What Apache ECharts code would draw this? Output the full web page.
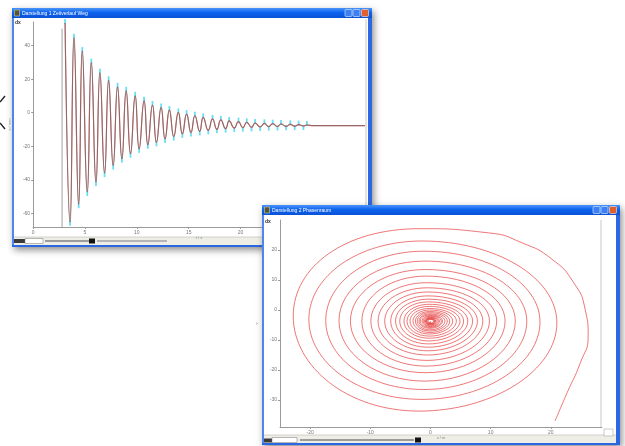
<!DOCTYPE html>
<html><head><meta charset="utf-8">
<script src="https://cdn.jsdelivr.net/npm/echarts@6/dist/echarts.min.js"></script>
<style>html,body{margin:0;padding:0;background:#fff}#c{width:625px;height:446px}</style>
</head><body><div id="c"></div>
<script>
// ---------- Window 1: time history (displacement vs time) ----------
const timeTicks = [0, 5, 10, 15, 20, 25, 30];
const dispTicks = [-60, -40, -20, 0, 20, 40];
const startT = [2.79, 2.79];
const startV = [-68, 50];
const peakT = [3.08,3.94,4.74,5.61,6.44,7.28,8.14,8.97,9.84,10.70,11.51,12.34,13.14,14.0,14.8,15.6,16.4,17.3,18.1,18.9,19.8,20.6,21.4,22.3,23.1,23.9,24.8,25.6,26.4];
const peakV = [53.4,44.6,36.7,29.8,23.8,19.3,15.4,13.0,10.1,7.1,4.6,3.1,1.6,0.2,-0.8,-1.8,-2.8,-3.7,-4.3,-4.9,-5.3,-5.7,-6.1,-6.3,-6.5,-6.7,-6.9,-7.1,-7.3];
const troughT = [3.56,4.39,5.22,6.06,6.89,7.72,8.56,9.39,10.22,11.06,11.89,12.72,13.56,14.39,15.22,16.06,16.89,17.72,18.56,19.39,20.22,21.06,21.89,22.72,23.56,24.39,25.22,26.06];
const troughV = [-64.9,-54.4,-47.2,-41.2,-35.9,-31.4,-27.4,-24.4,-21.5,-19.1,-17.6,-15.6,-14.2,-12.6,-11.8,-11.1,-10.5,-9.9,-9.5,-9.1,-8.9,-8.7,-8.5,-8.3,-8.2,-8.1,-8.0,-7.9];
const restT = [27.0, 32];
const restV = [-7.7, -7.7];

// ---------- Window 2: phase portrait ----------
const phaseXTicks = [-20, -10, 0, 10, 20];
const phaseYTicks = [-30, -20, -10, 0, 10, 20];
const tailX = [20.7, 22.7, 24.9, 26.2, 25.7, 23.8, 20.2, 15.2, 9.7];
const tailY = [-37.0, -27.6, -17.6, -8.7, 0.2, 9.1, 16.9, 22.4, 25.7];
const rightX = [null,21.0,18.2,16.0,14.1,12.4,11.0,9.8,8.7,7.8,7.0,6.2,5.5,4.9,4.3,3.7,3.2,2.8,2.4,2.0,1.8,1.5,1.3,1.1,0.9,0.8,0.7,0.55];
const rightY = [null,-4.3,-4.0,-3.8,-3.7,-3.7,-3.7,-3.7,-3.7,-3.7,-3.7,-3.7,-3.7,-3.7,-3.7,-3.7,-3.7,-3.7,-3.7,-3.7,-3.7,-3.7,-3.7,-3.7,-3.7,-3.7,-3.7,-3.7];
const topX = [-1.9,-1.4,-1.1,-0.9,-0.8,-0.7,-0.6,-0.5,-0.4,-0.4,-0.3,-0.3,-0.2,-0.2,-0.2,-0.1,-0.1,-0.1,-0.1,-0.1,0,0,0,0,0,0,0,0];
const topY = [27.1,23.0,19.6,16.3,13.5,11.3,9.1,7.4,6.0,4.7,3.6,2.7,1.9,1.2,0.5,0.0,-0.5,-0.9,-1.3,-1.6,-1.9,-2.1,-2.4,-2.6,-2.7,-2.9,-3.0,-3.15];
const leftX = [-22.8,-20.2,-17.4,-15.2,-13.3,-11.4,-9.9,-8.7,-7.6,-6.6,-5.8,-5.1,-4.4,-3.9,-3.4,-2.9,-2.5,-2.2,-1.9,-1.7,-1.4,-1.2,-1.0,-0.9,-0.8,-0.7,-0.6,-0.45];
const leftY = [-2.0,-3.1,-3.5,-3.6,-3.7,-3.7,-3.7,-3.7,-3.7,-3.7,-3.7,-3.7,-3.7,-3.7,-3.7,-3.7,-3.7,-3.7,-3.7,-3.7,-3.7,-3.7,-3.7,-3.7,-3.7,-3.7,-3.7,-3.7];
const bottomX = [-1.9,-1.4,-1.1,-0.9,-0.8,-0.7,-0.6,-0.5,-0.4,-0.4,-0.3,-0.3,-0.2,-0.2,-0.2,-0.1,-0.1,-0.1,-0.1,-0.1,0,0,0,0,0,0,0,0];
const bottomY = [-33.7,-29.8,-26.5,-23.7,-20.9,-18.7,-16.8,-15.0,-13.6,-12.4,-11.3,-10.3,-9.4,-8.7,-8.0,-7.5,-7.0,-6.6,-6.1,-5.8,-5.5,-5.3,-5.0,-4.8,-4.7,-4.5,-4.4,-4.25];
const centerX = [0];
const centerY = [-3.7];

const title1 = 'Darstellung 1 Zeitverlauf Weg';
const title2 = 'Darstellung 2 Phasenraum';

// ---------- build series data ----------
const wavePts = peakT.map((t, i) => [t, peakV[i]])
  .concat(troughT.map((t, i) => [t, troughV[i]]))
  .sort((a, b) => a[0] - b[0])
  .concat(restT.map((t, i) => [t, restV[i]]));
const startPts = startT.map((t, i) => [t, startV[i]]);
const peakPts = peakT.map((t, i) => [t, peakV[i]]);
const troughPts = troughT.map((t, i) => [t, troughV[i]]);

const spiralPts = tailX.map((x, i) => [x, tailY[i]]);
for (let i = 0; i < topX.length; i++) {
  if (rightX[i] !== null) spiralPts.push([rightX[i], rightY[i]]);
  spiralPts.push([topX[i], topY[i]]);
  spiralPts.push([leftX[i], leftY[i]]);
  spiralPts.push([bottomX[i], bottomY[i]]);
}
spiralPts.push([centerX[0], centerY[0]]);

// ---------- window chrome ----------
const FONT = 'Liberation Sans';
const titleGrad = {type: 'linear', x: 0, y: 0, x2: 0, y2: 1, colorStops: [
  {offset: 0, color: '#4a94fa'}, {offset: 0.45, color: '#0c63ee'}, {offset: 1, color: '#0a52d6'}]};

function windowFrame(x, y, w, h, title, z) {
  const e = [];
  e.push({type: 'rect', z, shape: {x, y, width: w, height: h},
    style: {fill: '#fff', shadowBlur: 7, shadowColor: 'rgba(0,0,0,0.45)', shadowOffsetX: 2, shadowOffsetY: 3}});
  e.push({type: 'rect', z, shape: {x, y, width: 2, height: h}, style: {fill: '#4f86ee'}});
  e.push({type: 'rect', z, shape: {x: x + w - 4, y, width: 4, height: h}, style: {fill: '#2b67e0'}});
  e.push({type: 'rect', z, shape: {x, y: y + h - 2, width: w, height: 2}, style: {fill: '#2b67e0'}});
  e.push({type: 'rect', z, shape: {x, y, width: w, height: 10}, style: {fill: titleGrad}});
  e.push({type: 'rect', z, shape: {x: x + 2.5, y: y + 2, width: 5, height: 6}, style: {fill: '#55553a', stroke: '#d8cf90', lineWidth: 0.6}});
  e.push({type: 'text', z, style: {text: title, x: x + 10, y: y + 5.3, fill: '#fff', fontSize: 5, fontFamily: FONT, verticalAlign: 'middle'}});
  const bx = x + w - 27;
  e.push({type: 'rect', z, shape: {x: bx, y: y + 1.5, width: 7, height: 7, r: 1}, style: {fill: '#3c80f2', stroke: '#e8f0ff', lineWidth: 0.6}});
  e.push({type: 'rect', z, shape: {x: bx + 8, y: y + 1.5, width: 7, height: 7, r: 1}, style: {fill: '#3c80f2', stroke: '#e8f0ff', lineWidth: 0.6}});
  e.push({type: 'rect', z, shape: {x: bx + 16.5, y: y + 1.5, width: 7, height: 7, r: 1}, style: {fill: '#e2602c', stroke: '#ffe8d8', lineWidth: 0.6}});
  e.push({type: 'rect', z, shape: {x: x + 2, y: y + h - 10, width: w - 6, height: 8}, style: {fill: '#efeee6'}});
  e.push({type: 'line', z, shape: {x1: x + 2, y1: y + h - 10, x2: x + w - 4, y2: y + h - 10}, style: {stroke: '#c8c8c0', lineWidth: 0.8}});
  return e;
}

const graphics = [];
graphics.push({type: 'polyline', z: 1, shape: {points: [[0, 102], [5, 96]]}, style: {stroke: '#222', lineWidth: 1.4, fill: null}});
graphics.push({type: 'polyline', z: 1, shape: {points: [[0, 123], [5, 129]]}, style: {stroke: '#222', lineWidth: 1.4, fill: null}});

graphics.push(...windowFrame(12, 8, 360, 239, title1, 1));
graphics.push({type: 'line', z: 1, shape: {x1: 366, y1: 19, x2: 366, y2: 236}, style: {stroke: '#c8c8c8', lineWidth: 1}});
graphics.push({type: 'text', z: 1, style: {text: 'dx', x: 15, y: 23, fill: '#333', fontSize: 5, fontWeight: 'bold', fontFamily: FONT, verticalAlign: 'middle'}});
graphics.push({type: 'rect', z: 1, shape: {x: 14, y: 239, width: 11, height: 4}, style: {fill: '#3a3a3a'}});
graphics.push({type: 'rect', z: 1, shape: {x: 25, y: 238.5, width: 18, height: 5}, style: {fill: '#fff', stroke: '#777', lineWidth: 0.5}});
graphics.push({type: 'rect', z: 1, shape: {x: 45, y: 240, width: 44, height: 2}, style: {fill: '#9c9c9c'}});
graphics.push({type: 'rect', z: 1, shape: {x: 89, y: 238.5, width: 6, height: 5}, style: {fill: '#111'}});
graphics.push({type: 'rect', z: 1, shape: {x: 97, y: 240, width: 70, height: 2}, style: {fill: '#b5b5b5'}});

graphics.push(...windowFrame(262, 205, 358, 240, title2, 10));
graphics.push({type: 'line', z: 10, shape: {x1: 601, y1: 220, x2: 601, y2: 427}, style: {stroke: '#c8c8c8', lineWidth: 1}});
graphics.push({type: 'text', z: 10, style: {text: 'dx', x: 265, y: 222, fill: '#333', fontSize: 5, fontWeight: 'bold', fontFamily: FONT, verticalAlign: 'middle'}});
graphics.push({type: 'rect', z: 10, shape: {x: 264, y: 438.5, width: 8, height: 4}, style: {fill: '#3a3a3a'}});
graphics.push({type: 'rect', z: 10, shape: {x: 272, y: 437.5, width: 25, height: 5}, style: {fill: '#fff', stroke: '#777', lineWidth: 0.5}});
graphics.push({type: 'rect', z: 10, shape: {x: 300, y: 439, width: 114, height: 2}, style: {fill: '#9c9c9c'}});
graphics.push({type: 'rect', z: 10, shape: {x: 415, y: 437.5, width: 6, height: 5}, style: {fill: '#111'}});
graphics.push({type: 'rect', z: 10, shape: {x: 604, y: 429, width: 9, height: 7}, style: {fill: '#fff', stroke: '#aaa', lineWidth: 0.6}});

const axisLine = {onZero: false, lineStyle: {color: '#9a9a9a', width: 1}};
const lbl = {fontSize: 5, color: '#777', fontFamily: FONT};

const option = {
  animation: false,
  backgroundColor: '#fff',
  graphic: {elements: graphics},
  grid: [
    {left: 31, top: 22, width: 334, height: 205},
    {left: 280, top: 220, width: 322, height: 207}
  ],
  xAxis: [
    {gridIndex: 0, type: 'value', min: 0, max: 32, interval: 5, z: 3,
      axisLine, axisTick: {length: 2, lineStyle: {color: '#9a9a9a'}, customValues: timeTicks},
      axisLabel: Object.assign({margin: 3, customValues: timeTicks}, lbl), splitLine: {show: false},
      name: 't / s', nameLocation: 'middle', nameGap: 7, nameTextStyle: {fontSize: 4, color: '#888', fontFamily: FONT}},
    {gridIndex: 1, type: 'value', min: -25, max: 28.5, z: 12,
      axisLine, axisTick: {length: 2, lineStyle: {color: '#9a9a9a'}, customValues: phaseXTicks},
      axisLabel: Object.assign({margin: 3, customValues: phaseXTicks}, lbl), splitLine: {show: false},
      name: 'x / m', nameLocation: 'middle', nameGap: 6, nameTextStyle: {fontSize: 4, color: '#888', fontFamily: FONT}}
  ],
  yAxis: [
    {gridIndex: 0, type: 'value', min: -68, max: 54, z: 3,
      axisLine, axisTick: {show: true, length: 2, lineStyle: {color: '#9a9a9a'}, customValues: dispTicks},
      axisLabel: Object.assign({margin: 3, customValues: dispTicks}, lbl), splitLine: {show: false},
      name: 's / mm', nameLocation: 'middle', nameGap: 14, nameTextStyle: {fontSize: 4, color: '#888', fontFamily: FONT}},
    {gridIndex: 1, type: 'value', min: -39, max: 30, z: 12,
      axisLine, axisTick: {show: true, length: 2, lineStyle: {color: '#9a9a9a'}, customValues: phaseYTicks},
      axisLabel: Object.assign({margin: 3, customValues: phaseYTicks}, lbl), splitLine: {show: false},
      name: 'v', nameLocation: 'middle', nameGap: 12, nameTextStyle: {fontSize: 4, color: '#888', fontFamily: FONT}}
  ],
  series: [
    {type: 'line', xAxisIndex: 0, yAxisIndex: 0, z: 4, data: startPts, showSymbol: false,
      lineStyle: {color: '#888', width: 0.8}},
    {type: 'scatter', xAxisIndex: 0, yAxisIndex: 0, z: 4, data: peakPts, symbol: 'rect', symbolSize: [1.8, 5], symbolOffset: [0, -1.5],
      itemStyle: {color: '#45d6f2'}},
    {type: 'scatter', xAxisIndex: 0, yAxisIndex: 0, z: 4, data: troughPts, symbol: 'rect', symbolSize: [1.8, 5], symbolOffset: [0, 1.5],
      itemStyle: {color: '#45d6f2'}},
    {type: 'line', xAxisIndex: 0, yAxisIndex: 0, z: 5, data: wavePts, smooth: 0.5, showSymbol: false,
      lineStyle: {color: '#c86464', width: 1.2}},
    {type: 'line', xAxisIndex: 0, yAxisIndex: 0, z: 5, data: wavePts, smooth: 0.5, showSymbol: false,
      lineStyle: {color: '#6a6a6a', width: 0.6}},
    {type: 'line', xAxisIndex: 1, yAxisIndex: 1, z: 13, data: spiralPts, smooth: 0.55, showSymbol: false,
      lineStyle: {color: '#e53535', width: 0.8, opacity: 0.85}}
  ]
};

const chart = echarts.init(document.getElementById('c'), null, {renderer: 'canvas'});
chart.setOption(option);
</script></body></html>
